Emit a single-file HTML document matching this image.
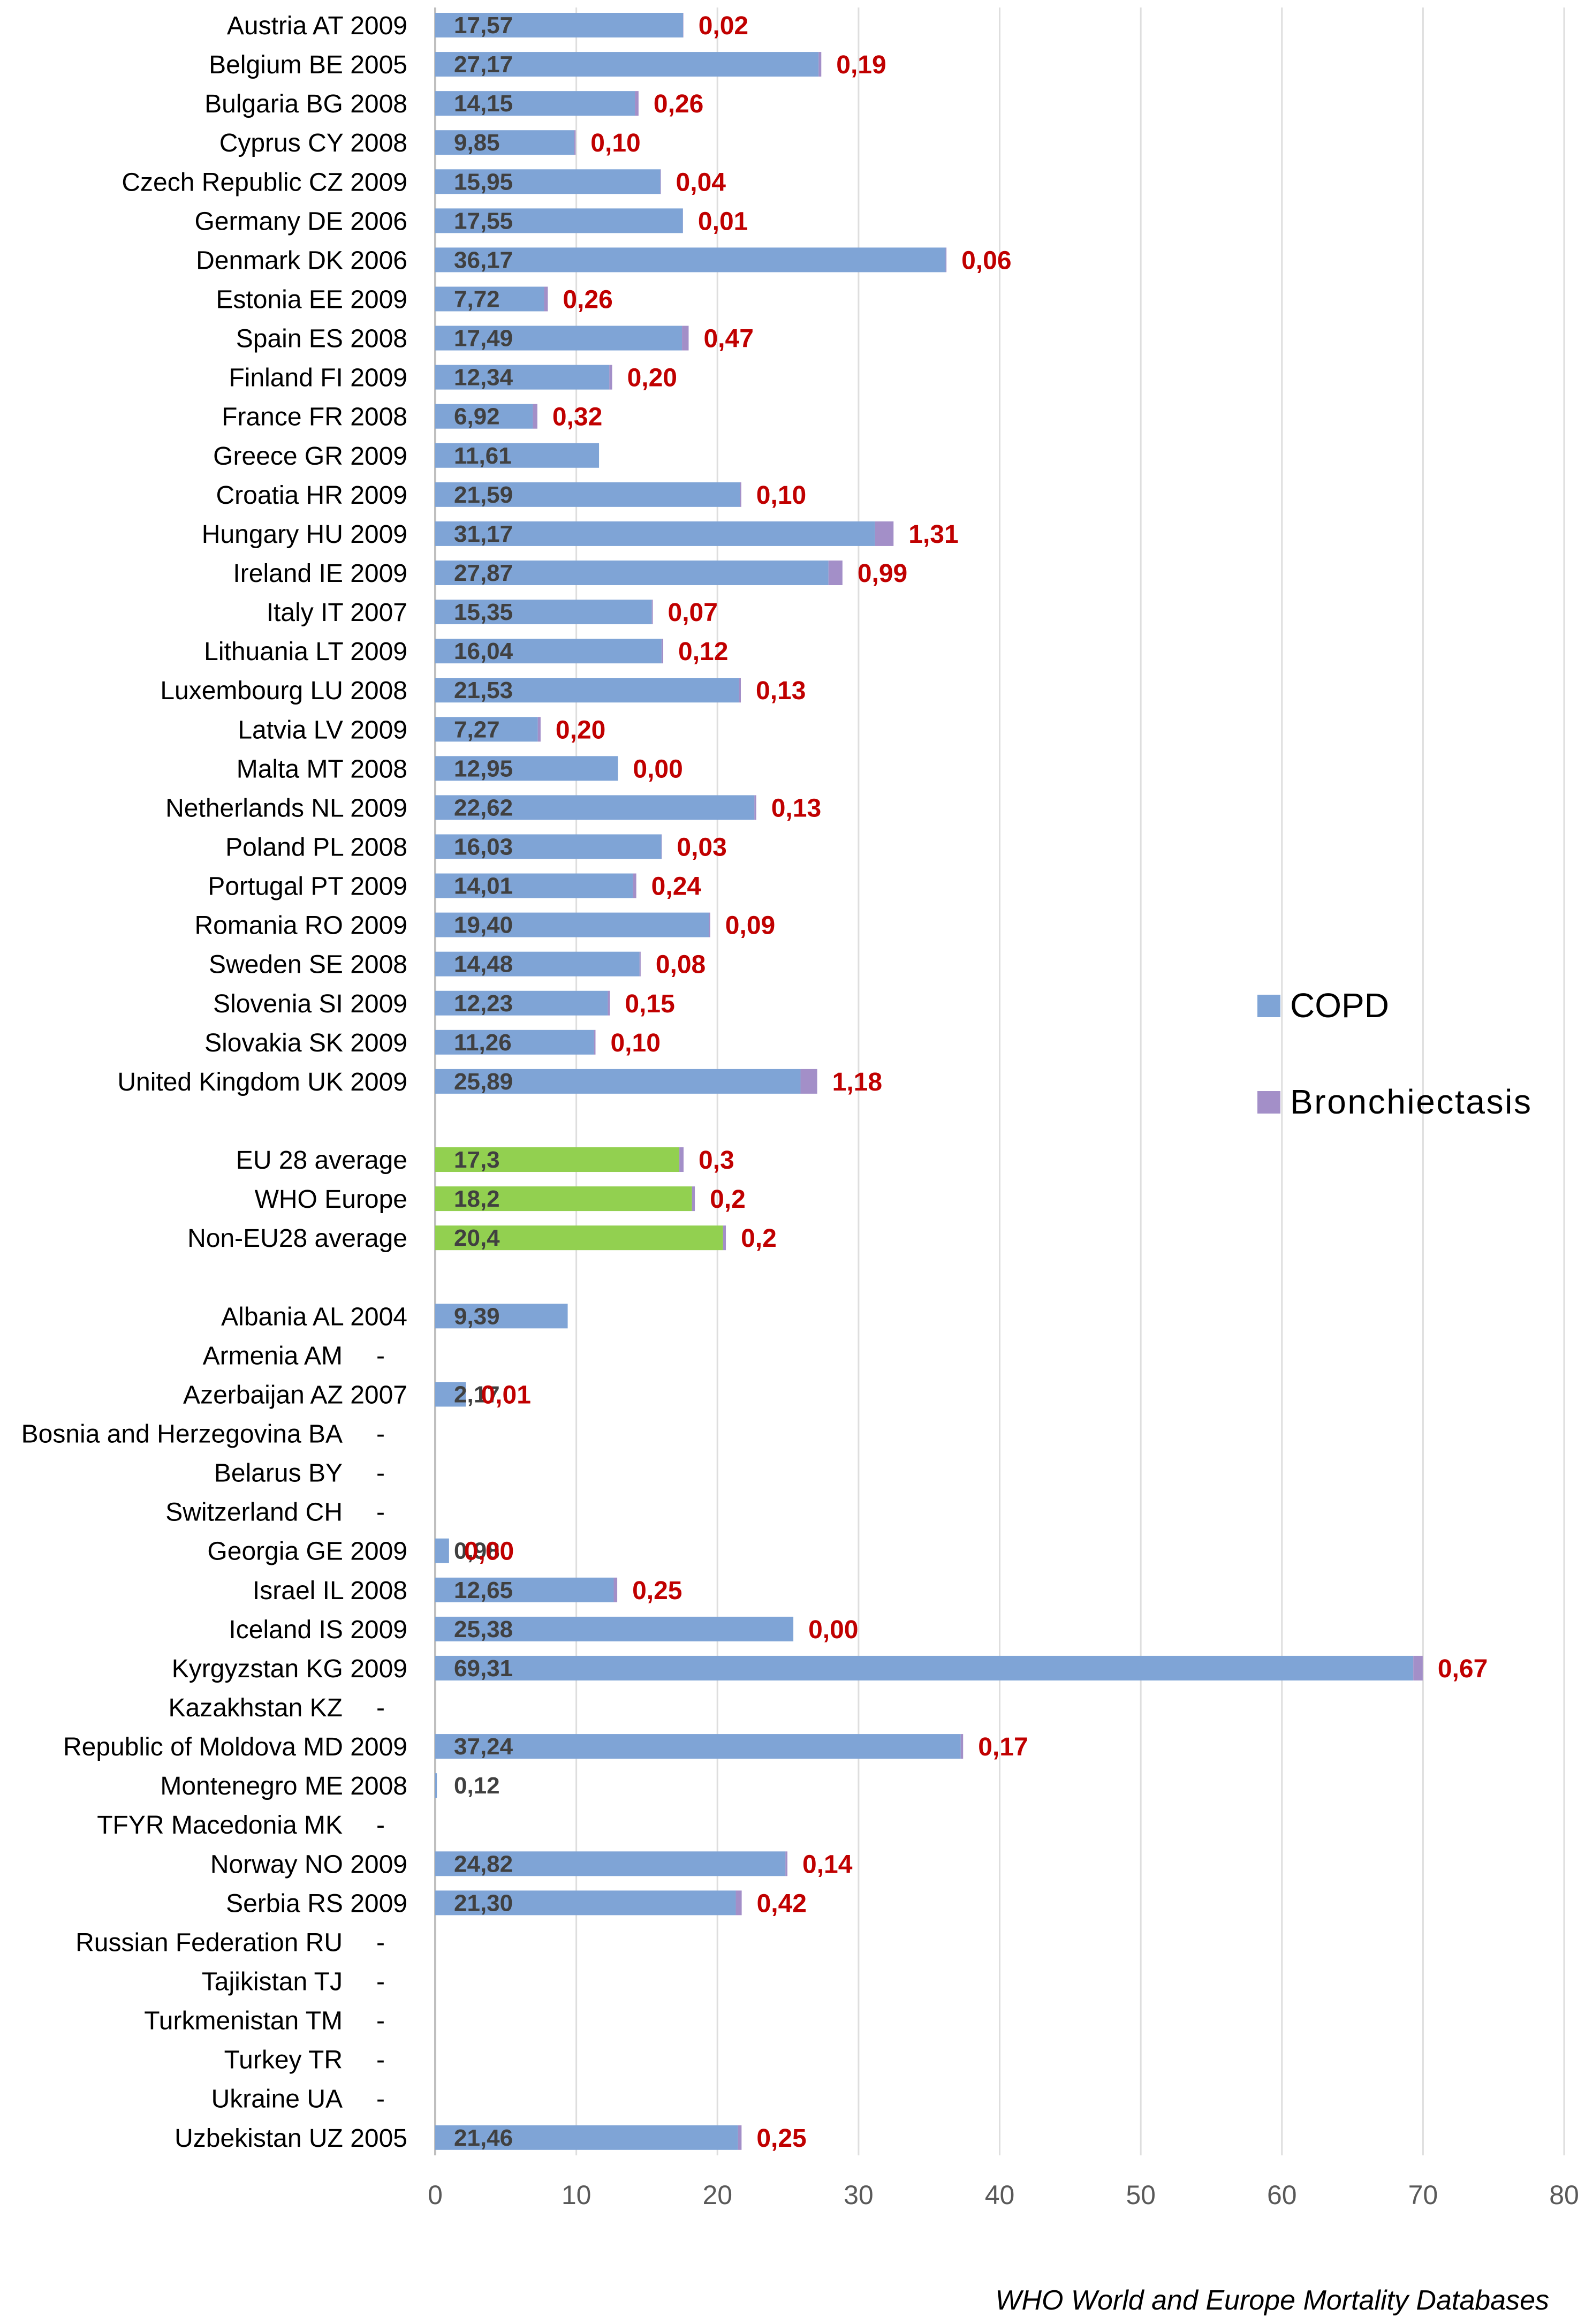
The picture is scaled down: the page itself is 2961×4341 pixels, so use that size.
<!DOCTYPE html>
<html><head><meta charset="utf-8"><style>
html,body{margin:0;padding:0;background:#fff;}
svg{display:block;font-family:"Liberation Sans",sans-serif;}
</style></head><body>
<svg id="chart" width="2961" height="4341" viewBox="0 0 2961 4341" xmlns="http://www.w3.org/2000/svg">
<g id="grid"></g><g id="bars"></g><g id="labels"></g><g id="ticks"></g>
<g>
<rect x="2349" y="1858" width="43" height="42" fill="#7fa4d6"/>
<text x="2410" y="1900" font-size="64" fill="#000">COPD</text>
<rect x="2349" y="2038" width="43" height="42" fill="#a38fc8"/>
<text x="2410" y="2080" font-size="64" fill="#000" textLength="450">Bronchiectasis</text>
</g>
<text x="2894" y="4314" font-size="52" font-style="italic" text-anchor="end" fill="#000">WHO World and Europe Mortality Databases</text>
</svg>
<script>
const categories = ["Austria AT 2009","Belgium BE 2005","Bulgaria BG 2008","Cyprus CY 2008","Czech Republic CZ 2009","Germany DE 2006","Denmark DK 2006","Estonia EE 2009","Spain ES 2008","Finland FI 2009","France FR 2008","Greece GR 2009","Croatia HR 2009","Hungary HU 2009","Ireland IE 2009","Italy IT 2007","Lithuania LT 2009","Luxembourg LU 2008","Latvia LV 2009","Malta MT 2008","Netherlands NL 2009","Poland PL 2008","Portugal PT 2009","Romania RO 2009","Sweden SE 2008","Slovenia SI 2009","Slovakia SK 2009","United Kingdom UK 2009","","EU 28 average","WHO Europe","Non-EU28 average","","Albania AL 2004","Armenia AM","Azerbaijan AZ 2007","Bosnia and Herzegovina BA","Belarus BY","Switzerland CH","Georgia GE 2009","Israel IL 2008","Iceland IS 2009","Kyrgyzstan KG 2009","Kazakhstan KZ","Republic of Moldova MD 2009","Montenegro ME 2008","TFYR Macedonia MK","Norway NO 2009","Serbia RS 2009","Russian Federation RU","Tajikistan TJ","Turkmenistan TM","Turkey TR","Ukraine UA","Uzbekistan UZ 2005"];
const copdValues = [17.57,27.17,14.15,9.85,15.95,17.55,36.17,7.72,17.49,12.34,6.92,11.61,21.59,31.17,27.87,15.35,16.04,21.53,7.27,12.95,22.62,16.03,14.01,19.40,14.48,12.23,11.26,25.89,null,17.3,18.2,20.4,null,9.39,null,2.17,null,null,null,0.98,12.65,25.38,69.31,null,37.24,0.12,null,24.82,21.30,null,null,null,null,null,21.46];
const bronchValues = [0.02,0.19,0.26,0.10,0.04,0.01,0.06,0.26,0.47,0.20,0.32,null,0.10,1.31,0.99,0.07,0.12,0.13,0.20,0.00,0.13,0.03,0.24,0.09,0.08,0.15,0.10,1.18,null,0.3,0.2,0.2,null,null,null,0.01,null,null,null,0.00,0.25,0.00,0.67,null,0.17,null,null,0.14,0.42,null,null,null,null,null,0.25];
const averageRows = [29,30,31];
const missingRows = [34,36,37,38,43,46,49,50,51,52,53];
const tickValues = [0,10,20,30,40,50,60,70,80];

const NS="http://www.w3.org/2000/svg";
const x0=813, x80=2922, y0=47, step=73.07, barH=46;
const xScale=v=>x0+(x80-x0)*v/80;
const yScale=i=>y0+i*step;
function mk(tag,attrs,parent,txt){const e=document.createElementNS(NS,tag);for(const k in attrs)e.setAttribute(k,attrs[k]);if(txt!==undefined)e.textContent=txt;parent.appendChild(e);return e;}
const fmt=(v,d)=>v.toFixed(d).replace('.',',');
const grid=document.getElementById('grid'),bars=document.getElementById('bars'),labels=document.getElementById('labels'),ticks=document.getElementById('ticks');
tickValues.forEach(t=>{
  const l=mk('line',{x1:xScale(t),x2:xScale(t),y1:14,y2:4026,stroke:t===0?'#bfbfbf':'#dedede','stroke-width':t===0?4:3},grid);
  
  
  const tx=mk('text',{x:xScale(t),y:4117,'font-size':50,'text-anchor':'middle',fill:'#595959'},ticks,String(t));
  
  
});
categories.forEach((c,i)=>{
  const y=yScale(i);
  if(c){
    const missing=missingRows.includes(i);
    const lb=mk('text',{x:missing?640:761,y:y+17,'font-size':48,'text-anchor':'end',fill:'#000'},labels,c);
    
    
    if(missing){
      const d=mk('text',{x:711,y:y+17,'font-size':48,'text-anchor':'middle',fill:'#000'},labels,'-');
      
      
    }
  }
  const cv=copdValues[i], bv=bronchValues[i];
  if(cv==null) return;
  const avg=averageRows.includes(i);
  const b=mk('rect',{x:x0,y:y-barH/2,width:xScale(cv)-x0,height:barH,fill:avg?'#92d050':'#7fa4d6'},bars);
  
  
  let end=xScale(cv);
  if(bv!=null){
    const p=mk('rect',{x:end,y:y-barH/2,width:Math.max(xScale(cv+bv)-end,0),height:barH,fill:'#a38fc8'},bars);
    
    
    end=xScale(cv+bv);
  }
  const d=avg?1:2;
  const vl=mk('text',{x:848,y:y+15,'font-size':44,fill:'#404040','font-weight':'bold'},labels,fmt(cv,d));
  
  
  if(bv!=null){
    const rl=mk('text',{x:end+28,y:y+17,'font-size':48,fill:'#c00000','font-weight':'bold'},labels,fmt(bv,d));
    
    
  }
});
</script>
</body></html>
